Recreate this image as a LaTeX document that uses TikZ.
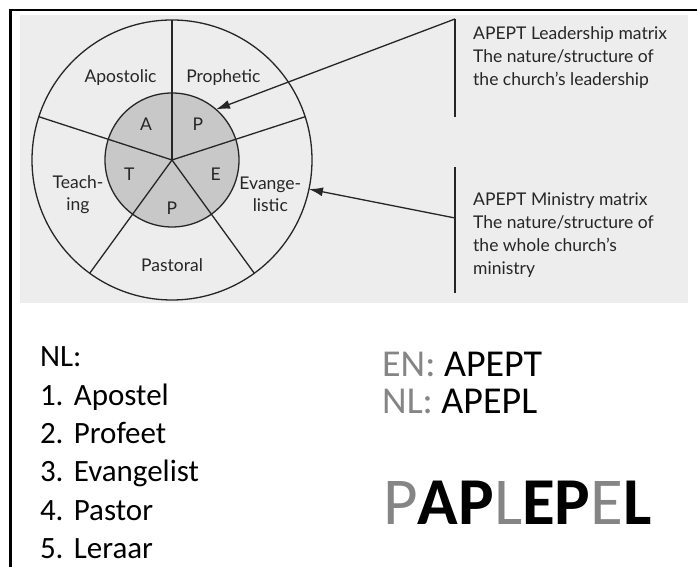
\documentclass[tikz,border=0pt]{standalone}
\usepackage{fontspec}
\setmainfont{Carlito}
\newfontfamily\scanfont{Lato}
\usetikzlibrary{arrows.meta, positioning}
\definecolor{scanbg}{HTML}{EDEDED}
\definecolor{ink}{HTML}{262626}
\definecolor{core}{HTML}{C8C8C8}
\definecolor{faded}{HTML}{858585}
\tikzstyle{ring} = [draw=ink, line width=1.3pt]
\tikzstyle{gift} = [font=\scanfont\fontsize{17.5}{22}\selectfont, text=ink, align=center, inner sep=0pt]
\tikzstyle{caption} = [font=\scanfont\fontsize{17.5}{23}\selectfont, text=ink, align=left, inner sep=0pt, anchor=north west]
\tikzstyle{pointer} = [draw=ink, line width=1.3pt, -{Latex[length=14pt,width=9pt]}]
\tikzstyle{item} = [font=\fontsize{31}{38}\selectfont, text width=200pt, align=left, text height=22pt, text depth=7pt, inner sep=0pt]
\tikzstyle{code} = [font=\fontsize{38}{46}\selectfont, anchor=base west, inner sep=0pt]

\begin{document}
\frenchspacing
\begin{tikzpicture}[x=1pt, y=1pt, node distance=38.3pt]
\useasboundingbox (0,0) rectangle (697,567);
% Frame and scanned page
\fill[scanbg] (20,264) rectangle (688,552);
\draw[line width=2.5pt] (10.5,0) -- (10.5,557) -- (697,557);

% Wheel
\coordinate (c) at (172,407);
\fill[core] (c) circle (67);
\draw[ring] (c) circle (67);
\draw[ring] (c) circle (140);
\foreach \a in {18,90,162,234,306}
  \draw[ring] (c) -- ++(\a:140);

% Inner letters
\node[gift] (ia) at ([shift={(126:44)}]c) {A};
\node[gift] (ip) at ([shift={(54:44)}]c) {P};
\node[gift] (ie) at ([shift={(-18:46)}]c) {E};
\node[gift] (ipa) at ([shift={(270:48)}]c) {P};
\node[gift] (it) at ([shift={(198:45)}]c) {T};

% Outer ring
\node[gift] (apo) at ([shift={(122:97)}]c) {Apostolic};
\node[gift] (pro) at ([shift={(58:97)}]c) {Prophetic};
\node[gift] (eva) at ([shift={(-19:104)}]c) {Evange-\\listic};
\node[gift] (tea) at ([shift={(200:100)}]c) {Teach-\\ing};
\node[gift] (pas) at ([shift={(270:105)}]c) {Pastoral};

% Captions with brackets
\node[caption] (lead) at (473,541) {APEPT Leadership matrix\\The nature/structure of\\the church’s leadership};
\node[caption] (mini) at (473,374) {APEPT Ministry matrix\\The nature/structure of\\the whole church’s\\ministry};
\coordinate (leadtop) at (455,548);
\coordinate (leadbot) at (455,450);
\coordinate (minitop) at (455,400);
\coordinate (minimid) at (455,349);
\coordinate (minibot) at (455,274);
\coordinate (corein) at ([shift={(49:67)}]c);
\coordinate (ringout) at ([shift={(-12:140)}]c);
\draw[ring] (leadtop) -- (leadbot);
\draw[ring] (minitop) -- (minibot);
\draw[pointer] (leadtop) -- (corein);
\draw[pointer] (minimid) -- (ringout);

% Dutch list
\node[item] (nl0) at (140,207.5) {NL:};
\node[item, below of=nl0] (nl1) {1. Apostel};
\node[item, below of=nl1] (nl2) {2. Profeet};
\node[item, below of=nl2] (nl3) {3. Evangelist};
\node[item, below of=nl3] (nl4) {4. Pastor};
\node[item, below of=nl4] (nl5) {5. Leraar};

% Acronyms
\node[code] (en) at (382,190) {\textcolor{faded}{EN:} APEPT};
\node[code] (nl) at (382,153) {\textcolor{faded}{NL:} APEPL};
\node[font=\fontsize{67}{70}\selectfont, anchor=base west, inner sep=0pt] (mix) at (383,42) {\textcolor{faded}{P}\textbf{AP}\textcolor{faded}{L}\textbf{EP}\textcolor{faded}{E}\textbf{L}};
\end{tikzpicture}
\end{document}
